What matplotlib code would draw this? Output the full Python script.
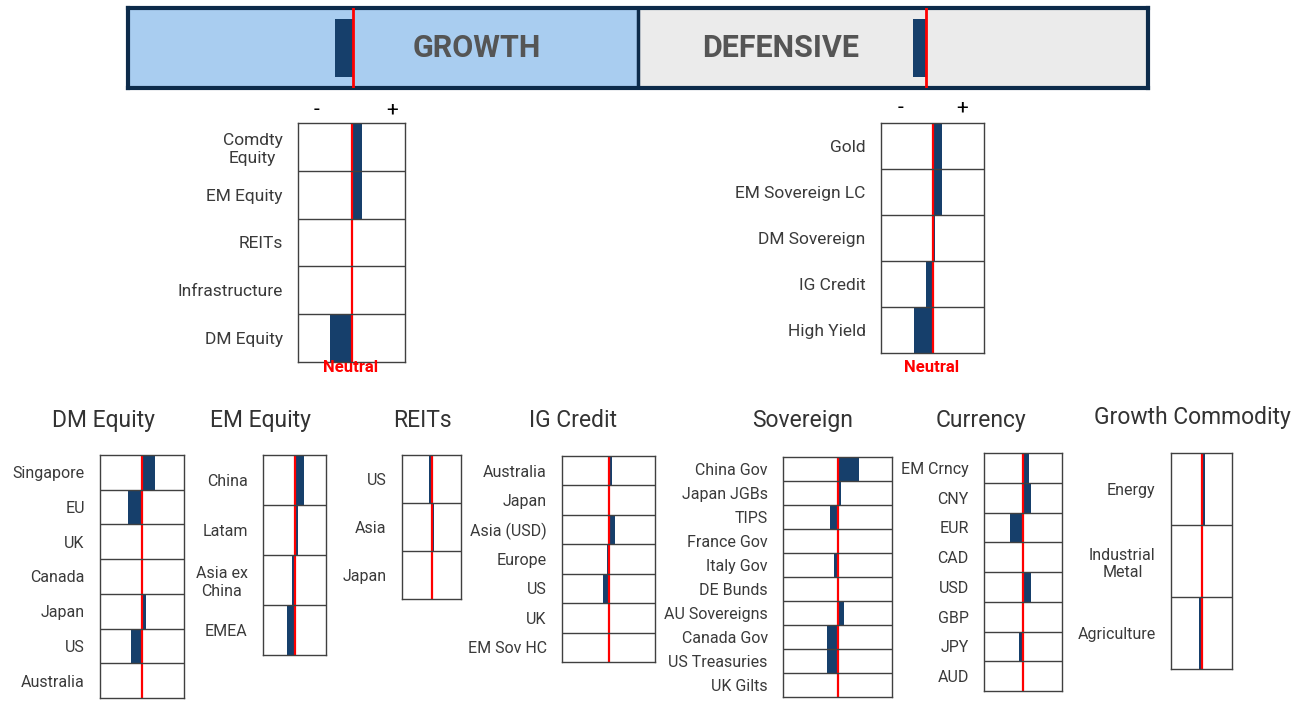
import matplotlib.pyplot as plt

plt.rcParams['font.family'] = ['Roboto', 'DejaVu Sans']

W, H = 1296, 706
NAVY = '#163F6B'
RED = '#FF0000'
GRID = '#404040'
TEXT = '#3A3A3A'

# banner: growth / defensive tilt (fraction of each half)
banner_tilt = [-0.035, -0.025]

# top panels (values in half-box units, 0 = neutral)
growth_labels = ['Comdty\nEquity', 'EM Equity', 'REITs', 'Infrastructure', 'DM Equity']
growth_values = [0.20, 0.20, 0.0, 0.0, -0.40]

defensive_labels = ['Gold', 'EM Sovereign LC', 'DM Sovereign', 'IG Credit', 'High Yield']
defensive_values = [0.18, 0.18, 0.05, -0.13, -0.35]

# bottom panels
dm_labels = ['Singapore', 'EU', 'UK', 'Canada', 'Japan', 'US', 'Australia']
dm_values = [0.31, -0.33, 0.0, 0.02, 0.10, -0.27, 0.02]

em_labels = ['China', 'Latam', 'Asia ex\nChina', 'EMEA']
em_values = [0.29, 0.10, -0.08, -0.24]

reits_labels = ['US', 'Asia', 'Japan']
reits_values = [-0.09, 0.10, 0.0]

ig_labels = ['Australia', 'Japan', 'Asia (USD)', 'Europe', 'US', 'UK', 'EM Sov HC']
ig_values = [0.07, 0.0, 0.13, -0.03, -0.12, 0.0, 0.0]

sov_labels = ['China Gov', 'Japan JGBs', 'TIPS', 'France Gov', 'Italy Gov', 'DE Bunds',
              'AU Sovereigns', 'Canada Gov', 'US Treasuries', 'UK Gilts']
sov_values = [0.39, 0.06, -0.13, 0.0, -0.06, 0.0, 0.12, -0.19, -0.19, 0.0]

fx_labels = ['EM Crncy', 'CNY', 'EUR', 'CAD', 'USD', 'GBP', 'JPY', 'AUD']
fx_values = [0.15, 0.20, -0.33, 0.02, 0.20, -0.02, -0.10, 0.02]

cmdty_labels = ['Energy', 'Industrial\nMetal', 'Agriculture']
cmdty_values = [0.12, 0.0, -0.09]

fig = plt.figure(figsize=(12.96, 7.06), dpi=100)
fig.patch.set_facecolor('white')


def add_panel(rect, labels, values, fsize=11.5):
    l, t, r, b = rect
    ax = fig.add_axes([l / W, 1 - b / H, (r - l) / W, (b - t) / H])
    n = len(labels)
    ax.barh(range(n), values, height=1.0, color=NAVY, zorder=2)
    ax.axvline(0, color=RED, lw=1.6, zorder=3)
    for i in range(1, n):
        ax.axhline(i - 0.5, color=GRID, lw=1.0, zorder=4)
    ax.set_xlim(-1, 1)
    ax.set_ylim(n - 0.5, -0.5)
    ax.set_xticks([])
    ax.set_yticks(range(n))
    ax.set_yticklabels(labels, fontsize=fsize, color=TEXT)
    for lbl in ax.get_yticklabels():
        lbl.set_multialignment('center')
    ax.tick_params(axis='y', length=0, pad=11)
    for s in ax.spines.values():
        s.set_color(GRID)
        s.set_linewidth(1.0)
        s.set_zorder(5)
    return ax


def ftext(x, y, s, **kw):
    fig.text(x / W, 1 - y / H, s, **kw)


# ---- banner ----
bax = fig.add_axes([128 / W, 1 - 88 / H, 1020 / W, 80 / H])
bax.set_xlim(0, 2)
bax.set_ylim(0, 1)
bax.axvspan(0, 1, color='#A9CDF0', zorder=0)
bax.axvspan(1, 2, color='#EBEBEB', zorder=0)
neutral_pos = [0.441, 1.565]
for pos, tilt in zip(neutral_pos, banner_tilt):
    bax.barh(0.5, tilt, left=pos, height=0.72, color=NAVY, zorder=2)
    bax.axvline(pos, color=RED, lw=2, zorder=3)
bax.axvline(1, color='#0D2B4A', lw=2.5, zorder=4)
bax.text(0.684, 0.5, 'GROWTH', ha='center', va='center', fontsize=22,
         fontweight='bold', color='#555555')
bax.text(1.28, 0.5, 'DEFENSIVE', ha='center', va='center', fontsize=22,
         fontweight='bold', color='#555555')
bax.set_xticks([])
bax.set_yticks([])
for s in bax.spines.values():
    s.set_color('#0D2B4A')
    s.set_linewidth(3)

# ---- top panels ----
add_panel((298, 123, 405, 362), growth_labels, growth_values, fsize=12.5)
add_panel((881, 123, 984, 353), defensive_labels, defensive_values, fsize=12.5)

ftext(317, 110, '-', ha='center', va='center', fontsize=15, color='black')
ftext(392, 110, '+', ha='center', va='center', fontsize=15, color='black')
ftext(900, 108, '-', ha='center', va='center', fontsize=15, color='black')
ftext(962, 108, '+', ha='center', va='center', fontsize=15, color='black')
ftext(351, 368, 'Neutral', ha='center', va='center', fontsize=12,
      fontweight='bold', color=RED)
ftext(932, 368, 'Neutral', ha='center', va='center', fontsize=12,
      fontweight='bold', color=RED)

# ---- bottom panels ----
panels = [
    ((100, 455, 184, 698), dm_labels, dm_values, 'DM Equity', 103, 427),
    ((263, 455, 326, 655), em_labels, em_values, 'EM Equity', 260, 427),
    ((402, 455, 461, 599), reits_labels, reits_values, 'REITs', 422, 427),
    ((562, 456, 655, 662), ig_labels, ig_values, 'IG Credit', 573, 427),
    ((783, 457, 892, 697), sov_labels, sov_values, 'Sovereign', 803, 427),
    ((984, 453, 1062, 691), fx_labels, fx_values, 'Currency', 981, 427),
    ((1171, 453, 1232, 669), cmdty_labels, cmdty_values, 'Growth Commodity', 1192, 424),
]
for rect, labels, values, title, tx, ty in panels:
    add_panel(rect, labels, values)
    ftext(tx, ty, title, ha='center', va='baseline', fontsize=16.5, color='#333333')

fig.savefig('out.png', dpi=100, facecolor='white')
